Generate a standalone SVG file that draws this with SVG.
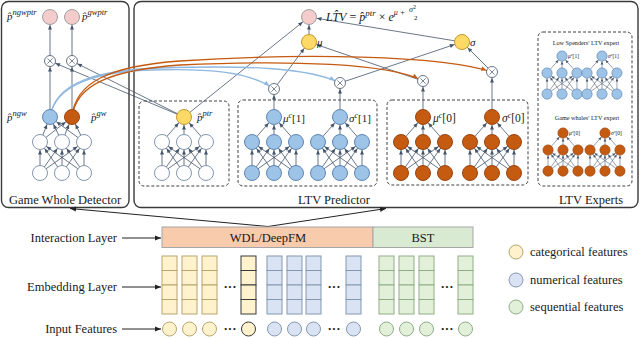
<svg xmlns="http://www.w3.org/2000/svg" width="640" height="338" viewBox="0 0 640 338">
<style>
.t{font-family:"Liberation Serif","Times New Roman",serif;fill:#1a1a1a}
.m{font-family:"Liberation Serif","Times New Roman",serif;font-style:italic;fill:#1a1a1a}
.frame{fill:#fff;stroke:#3a3a3a;stroke-width:1.4}
.dash{fill:none;stroke:#404040;stroke-width:1;stroke-dasharray:3 2}
.e{stroke:#44546a;stroke-width:.8;fill:none;marker-end:url(#m7)}
.e5{stroke:#44546a;stroke-width:.8;fill:none;marker-end:url(#m5)}
.w{fill:#fff;stroke:#8497b0;stroke-width:1}
.b{fill:#9dc3e6;stroke:#5f86b5;stroke-width:1}
.o{fill:#c55a11;stroke:#9a450e;stroke-width:1}
.y{fill:#ffd966;stroke:#bf9b30;stroke-width:1}
.p{fill:#f4cccc;stroke:#a0a0a0;stroke-width:1}
.cy{fill:#fff2cc;stroke:#b7a46e;stroke-width:1}
.cyd{fill:#fff2cc;stroke:#3a3a3a;stroke-width:1}
.cb{fill:#dae3f3;stroke:#8497b0;stroke-width:1}
.cg{fill:#e2f0d9;stroke:#8fae86;stroke-width:1}
.ab{stroke:#8fb8e0;stroke-width:1.3;fill:none;marker-end:url(#mb)}
.ao{stroke:#c55a11;stroke-width:1.3;fill:none;marker-end:url(#mo)}
.blk{stroke:#222;stroke-width:1;fill:none;marker-end:url(#m0)}
</style>
<defs>
<marker id="m7" markerUnits="userSpaceOnUse" markerWidth="20" markerHeight="10" refX="12.5" refY="2" orient="auto" overflow="visible"><path d="M0,0L4.5,2L0,4z" fill="#44546a"/></marker>
<marker id="m5" markerUnits="userSpaceOnUse" markerWidth="20" markerHeight="10" refX="10.5" refY="2" orient="auto" overflow="visible"><path d="M0,0L4.5,2L0,4z" fill="#44546a"/></marker>
<marker id="mb" markerUnits="userSpaceOnUse" markerWidth="20" markerHeight="10" refX="11" refY="2.2" orient="auto" overflow="visible"><path d="M0,0L5,2.2L0,4.4z" fill="#8fb8e0"/></marker>
<marker id="mo" markerUnits="userSpaceOnUse" markerWidth="20" markerHeight="10" refX="11" refY="2.2" orient="auto" overflow="visible"><path d="M0,0L5,2.2L0,4.4z" fill="#c55a11"/></marker>
<marker id="m0" markerUnits="userSpaceOnUse" markerWidth="10" markerHeight="10" refX="6" refY="2.5" orient="auto" overflow="visible"><path d="M0,0L6,2.5L0,5z" fill="#222"/></marker>
<g id="E1" class="e">
<line x1="-22" y1="56" x2="-22" y2="25"/><line x1="-22" y1="56" x2="0" y2="25"/><line x1="-22" y1="56" x2="22" y2="25"/>
<line x1="0" y1="56" x2="-22" y2="25"/><line x1="0" y1="56" x2="0" y2="25"/><line x1="0" y1="56" x2="22" y2="25"/>
<line x1="22" y1="56" x2="-22" y2="25"/><line x1="22" y1="56" x2="0" y2="25"/><line x1="22" y1="56" x2="22" y2="25"/>
</g>
<g id="E2" class="e">
<line x1="-22" y1="25" x2="0" y2="0"/><line x1="0" y1="25" x2="0" y2="0"/><line x1="22" y1="25" x2="0" y2="0"/>
</g>
<g id="N">
<circle cx="-22" cy="25" r="7.5"/><circle cx="0" cy="25" r="7.5"/><circle cx="22" cy="25" r="7.5"/>
<circle cx="-22" cy="56" r="7.5"/><circle cx="0" cy="56" r="7.5"/><circle cx="22" cy="56" r="7.5"/>
</g>
<g id="net"><use href="#E1"/><use href="#E2"/><use href="#N"/><circle r="7.5"/></g>
<g id="xn"><circle r="5.5" fill="#fff" stroke="#44546a" stroke-width=".8"/><path d="M-2.6,-2.6L2.6,2.6M2.6,-2.6L-2.6,2.6" stroke="#44546a" stroke-width=".7"/></g>
<g id="col"><rect x="0" y="0" width="15" height="14.5"/><rect x="0" y="14.5" width="15" height="14.5"/><rect x="0" y="29" width="15" height="14.5"/><rect x="0" y="43.5" width="15" height="14.5"/></g>
</defs>

<!-- frames -->
<g id="frame-gwd"><rect class="frame" x="1.5" y="1.5" width="127.5" height="206" rx="7"/>
<text class="t" x="65" y="204" font-size="12.5" text-anchor="middle">Game Whole Detector</text></g>
<g id="frame-ltv"><rect class="frame" x="134" y="1.5" width="504" height="206" rx="7"/>
<text class="t" x="334" y="204" font-size="12.5" text-anchor="middle">LTV Predictor</text>
<text class="t" x="591" y="204" font-size="12.5" text-anchor="middle">LTV Experts</text></g>
<g id="dashed-boxes">
<rect class="dash" x="139" y="101" width="90" height="85" rx="5"/>
<rect class="dash" x="238" y="100" width="139" height="86" rx="5"/>
<rect class="dash" x="387" y="100" width="141" height="85" rx="5"/>
<rect class="dash" x="538" y="32" width="94" height="154" rx="5"/>
</g>

<!-- connectors -->
<g id="connectors">
<line class="e5" x1="50" y1="117" x2="50" y2="61"/>
<line class="e5" x1="72" y1="117" x2="72" y2="61"/>
<line class="e" x1="50" y1="61" x2="50" y2="17"/>
<line class="e" x1="72" y1="61" x2="72" y2="17"/>
<line class="e5" x1="184" y1="117" x2="50" y2="61"/>
<line class="e5" x1="184" y1="117" x2="72" y2="61"/>
<line class="e" x1="184" y1="117" x2="309" y2="17"/>
<line class="e5" x1="274" y1="117" x2="274" y2="89"/>
<line class="e5" x1="340" y1="117" x2="340" y2="83"/>
<line class="e5" x1="423" y1="117" x2="423" y2="81"/>
<line class="e5" x1="492" y1="117" x2="492" y2="72"/>
<line class="e" x1="274" y1="89" x2="309" y2="42"/>
<line class="e" x1="423" y1="81" x2="309" y2="42"/>
<line class="e" x1="340" y1="83" x2="462" y2="42"/>
<line class="e" x1="492" y1="72" x2="462" y2="42"/>
<line class="e" x1="309" y1="42" x2="309" y2="17"/>
<line class="e" x1="462" y1="42" x2="309" y2="17"/>
<path class="ab" d="M50,117C55,85 95,72 150,70C210,68 250,72 274,89"/>
<path class="ab" d="M50,117C55,83 95,70 160,68C250,65 310,68 340,83"/>
<path class="ao" d="M72,117C76,85 110,70 180,65C290,60 390,63 423,81"/>
<path class="ao" d="M72,117C75,82 110,66 180,61C300,53 440,55 492,72"/>
<line class="blk" x1="268" y1="226.5" x2="70" y2="208.5"/>
<line class="blk" x1="268" y1="226.5" x2="386" y2="208.5"/>
<line class="blk" x1="122" y1="238" x2="161" y2="238"/>
<line class="blk" x1="122" y1="287" x2="161" y2="287"/>
<line class="blk" x1="122" y1="329" x2="161" y2="329"/>
</g>

<!-- Game Whole Detector network -->
<g id="net-gwd">
<use href="#E1" transform="translate(62,117)"/>
<g class="e">
<line x1="40" y1="142" x2="50" y2="117"/><line x1="62" y1="142" x2="50" y2="117"/><line x1="84" y1="142" x2="50" y2="117"/>
<line x1="40" y1="142" x2="72" y2="117"/><line x1="62" y1="142" x2="72" y2="117"/><line x1="84" y1="142" x2="72" y2="117"/>
</g>
<use href="#N" class="w" transform="translate(62,117)"/>
</g>
<g id="node-pngw"><circle class="b" cx="50" cy="117" r="7.5"/><text class="m" x="7" y="121" font-size="11">p̂<tspan font-size="8.5" dy="-5">ngw</tspan></text></g>
<g id="node-pgw"><circle class="o" cx="72" cy="117" r="7.5"/><text class="m" x="91" y="121" font-size="11">p̂<tspan font-size="8.5" dy="-5">gw</tspan></text></g>
<g id="node-x-ngw"><use href="#xn" x="50" y="61"/></g>
<g id="node-x-gw"><use href="#xn" x="72" y="61"/></g>
<g id="node-pngwptr"><circle class="p" cx="50" cy="17" r="7.5"/><text class="m" x="7" y="20" font-size="11">p̂<tspan font-size="8.5" dy="-5">ngwptr</tspan></text></g>
<g id="node-pgwptr"><circle class="p" cx="72" cy="17" r="7.5"/><text class="m" x="82" y="20" font-size="11">p̂<tspan font-size="8.5" dy="-5">gwptr</tspan></text></g>

<!-- ptr network -->
<g id="net-ptr">
<use href="#E1" transform="translate(184,117)"/><use href="#E2" transform="translate(184,117)"/>
<use href="#N" class="w" transform="translate(184,117)"/>
<circle class="y" cx="184" cy="117" r="7.5"/>
<text class="m" x="197" y="121" font-size="11">p̂<tspan font-size="8.5" dy="-5">ptr</tspan></text>
</g>
<g id="net-mu1"><use href="#net" class="b" transform="translate(274,117)"/>
<text class="m" x="283" y="122" font-size="11">μ<tspan font-size="8" dy="-4">c</tspan><tspan font-style="normal" dy="4">[1]</tspan></text></g>
<g id="net-sigma1"><use href="#net" class="b" transform="translate(340,117)"/>
<text class="m" x="349" y="122" font-size="11">σ<tspan font-size="8" dy="-4">c</tspan><tspan font-style="normal" dy="4">[1]</tspan></text></g>
<g id="net-mu0"><use href="#net" class="o" transform="translate(423,117)"/>
<text class="m" x="433" y="122" font-size="11.5">μ<tspan font-size="8" dy="-4">c</tspan><tspan font-style="normal" dy="4">[0]</tspan></text></g>
<g id="net-sigma0"><use href="#net" class="o" transform="translate(492,117)"/>
<text class="m" x="502" y="122" font-size="11.5">σ<tspan font-size="8" dy="-4">c</tspan><tspan font-style="normal" dy="4">[0]</tspan></text></g>

<g id="node-x-mu1"><use href="#xn" x="274" y="89"/></g>
<g id="node-x-sigma1"><use href="#xn" x="340" y="83"/></g>
<g id="node-x-mu0"><use href="#xn" x="423" y="81"/></g>
<g id="node-x-sigma0"><use href="#xn" x="492" y="72"/></g>
<g id="node-mu"><circle class="y" cx="309" cy="42" r="7.5"/><text class="m" x="317" y="46" font-size="11">μ</text></g>
<g id="node-sigma"><circle class="y" cx="462" cy="42" r="7.5"/><text class="m" x="470" y="46" font-size="11">σ</text></g>
<g id="node-ltv"><circle class="p" cx="309" cy="17" r="7.5"/>
<text class="m" x="326" y="21" font-size="12">LT̂V<tspan font-style="normal"> = </tspan>p̂<tspan font-size="9" dy="-5">ptr</tspan><tspan font-style="normal" dy="5"> × </tspan>e<tspan font-size="8" dy="-6">μ +</tspan></text>
<text class="m" x="409" y="12" font-size="8">σ<tspan font-size="6" dy="-3" font-style="normal">2</tspan></text>
<text class="t" x="414" y="20" font-size="7">2</text>
</g>

<!-- LTV experts -->
<g id="experts">
<text class="t" x="586" y="45" font-size="6.2" text-anchor="middle">Low Spenders' LTV expert</text>
<text class="t" x="587" y="120" font-size="6.2" text-anchor="middle">Game whales' LTV expert</text>
<g id="exp-mu1"><use href="#net" class="b" transform="translate(562,56) scale(.68)"/><text class="m" x="568" y="58" font-size="5.5">μ<tspan font-size="4" dy="-2">c</tspan><tspan font-style="normal" dy="2">[1]</tspan></text></g>
<g id="exp-sigma1"><use href="#net" class="b" transform="translate(602,56) scale(.68)"/><text class="m" x="608" y="58" font-size="5.5">σ<tspan font-size="4" dy="-2">c</tspan><tspan font-style="normal" dy="2">[1]</tspan></text></g>
<g id="exp-mu0"><use href="#net" class="o" transform="translate(563,133) scale(.68)"/><text class="m" x="569" y="135" font-size="5.5">μ<tspan font-size="4" dy="-2">c</tspan><tspan font-style="normal" dy="2">[0]</tspan></text></g>
<g id="exp-sigma0"><use href="#net" class="o" transform="translate(605,133) scale(.68)"/><text class="m" x="611" y="135" font-size="5.5">σ<tspan font-size="4" dy="-2">c</tspan><tspan font-style="normal" dy="2">[0]</tspan></text></g>
</g>

<!-- bottom layers -->
<g id="labels">
<text class="t" x="117" y="242" font-size="12.5" text-anchor="end">Interaction Layer</text>
<text class="t" x="117" y="291" font-size="12.5" text-anchor="end">Embedding Layer</text>
<text class="t" x="117" y="333" font-size="12.5" text-anchor="end">Input Features</text>
</g>
<g id="interaction">
<rect x="162" y="227" width="211" height="20.5" fill="#f8cbad" stroke="#a6a6a6"/>
<rect x="373" y="227" width="100" height="20.5" fill="#d9ead3" stroke="#a6a6a6"/>
<text class="t" x="268" y="242" font-size="12.5" text-anchor="middle">WDL/DeepFM</text>
<text class="t" x="423" y="242" font-size="12.5" text-anchor="middle">BST</text>
</g>
<g id="embedding">
<use href="#col" class="cy" x="162" y="256"/><use href="#col" class="cy" x="182" y="256"/><use href="#col" class="cy" x="202" y="256"/><use href="#col" class="cyd" x="241" y="256"/>
<use href="#col" class="cb" x="267" y="256"/><use href="#col" class="cb" x="287" y="256"/><use href="#col" class="cb" x="306" y="256"/><use href="#col" class="cb" x="346" y="256"/>
<use href="#col" class="cg" x="379" y="256"/><use href="#col" class="cg" x="399" y="256"/><use href="#col" class="cg" x="419" y="256"/><use href="#col" class="cg" x="458" y="256"/>
<text class="t" x="230" y="291" font-size="13" font-weight="bold" text-anchor="middle">···</text>
<text class="t" x="334" y="291" font-size="13" font-weight="bold" text-anchor="middle">···</text>
<text class="t" x="447" y="291" font-size="13" font-weight="bold" text-anchor="middle">···</text>
</g>
<g id="inputs">
<circle class="cy" cx="169.5" cy="329" r="7"/><circle class="cy" cx="189.5" cy="329" r="7"/><circle class="cy" cx="209.5" cy="329" r="7"/><circle class="cyd" cx="248.5" cy="329" r="7"/>
<circle class="cb" cx="274.5" cy="329" r="7"/><circle class="cb" cx="294.5" cy="329" r="7"/><circle class="cb" cx="313.5" cy="329" r="7"/><circle class="cb" cx="353.5" cy="329" r="7"/>
<circle class="cg" cx="386.5" cy="329" r="7"/><circle class="cg" cx="406.5" cy="329" r="7"/><circle class="cg" cx="426.5" cy="329" r="7"/><circle class="cg" cx="465.5" cy="329" r="7"/>
<text class="t" x="230" y="333" font-size="13" font-weight="bold" text-anchor="middle">···</text>
<text class="t" x="334" y="333" font-size="13" font-weight="bold" text-anchor="middle">···</text>
<text class="t" x="447" y="333" font-size="13" font-weight="bold" text-anchor="middle">···</text>
</g>
<g id="legend">
<circle class="cy" cx="516" cy="252" r="7"/><text class="t" x="530" y="256" font-size="12.5">categorical features</text>
<circle class="cb" cx="516" cy="280" r="7"/><text class="t" x="530" y="284" font-size="12.5">numerical features</text>
<circle class="cg" cx="516" cy="307" r="7"/><text class="t" x="530" y="311" font-size="12.5">sequential features</text>
</g>
</svg>
